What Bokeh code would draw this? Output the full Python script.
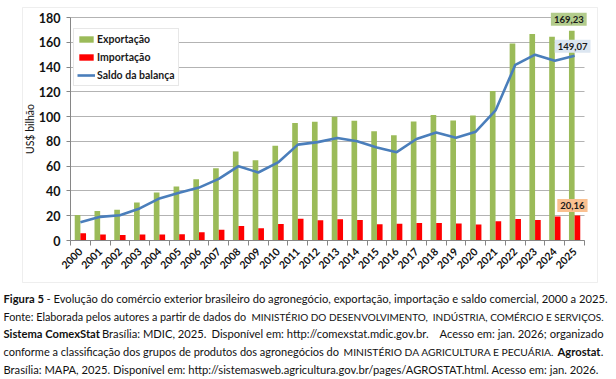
from bokeh.plotting import figure
from bokeh.models import (Range1d, FixedTicker, Label, Legend, LegendItem,
                          BoxAnnotation, ColumnDataSource)
from bokeh.transform import dodge
from bokeh.embed import file_html
from bokeh.resources import INLINE

# ---------------- data ----------------
years = list(range(2000, 2026))
exportacao = [20.6, 23.9, 24.8, 30.7, 38.8, 43.6, 49.4, 58.4, 71.8, 64.8,
              76.4, 94.9, 95.8, 99.9, 96.7, 88.2, 84.9, 96.0, 101.2, 96.8,
              100.8, 120.6, 159.1, 166.6, 164.4, 169.23]
importacao = [5.8, 4.8, 4.4, 4.8, 4.8, 5.1, 6.7, 8.7, 11.8, 9.9,
              13.4, 17.5, 16.4, 17.1, 16.6, 13.1, 13.6, 14.1, 14.1, 13.8,
              13.0, 15.6, 17.3, 16.6, 19.3, 20.16]
saldo = [14.8, 19.1, 20.4, 25.9, 34.0, 38.5, 42.7, 49.7, 60.0, 54.9,
         63.0, 77.4, 79.4, 82.8, 80.1, 75.1, 71.3, 81.9, 87.1, 83.0,
         87.8, 105.0, 141.8, 150.0, 145.1, 149.07]
y_ticks = [0, 20, 40, 60, 80, 100, 120, 140, 160, 180]
series_names = ["Exportação", "Importação", "Saldo da balança"]
y_label = "US$ bilhão"
last_labels = ["169,23", "149,07", "20,16"]

# caption segments: (text, bold, font size, anchor)
caption = [
    [("Figura 5", True, 11.2, ("L", 3)),
     ("- Evolução do comércio exterior brasileiro do agronegócio, exportação, importação e saldo comercial, 2000 a 2025.", False, 11.2, ("L", 46))],
    [("Fonte: Elaborada pelos autores a partir de dados do", False, 10.8, ("L", 3)),
     ("MINISTÉRIO DO DESENVOLVIMENTO,", False, 10.0, ("L", 251)),
     ("INDÚSTRIA, COMÉRCIO E SERVIÇOS.", False, 10.0, ("R", 603))],
    [("Sistema ComexStat", True, 11.2, ("L", 3)),
     (". Brasília: MDIC, 2025.", False, 11.2, ("L", 96)),
     ("Disponível em: http://comexstat.mdic.gov.br.", False, 11.2, ("L", 211)),
     ("Acesso em: jan. 2026;", False, 11.2, ("L", 439)),
     ("organizado", False, 11.2, ("R", 603))],
    [("conforme a classificação dos grupos de produtos dos agronegócios do", False, 11.0, ("L", 3)),
     ("MINISTÉRIO DA AGRICULTURA E PECUÁRIA.", False, 10.3, ("R", 554)),
     ("Agrostat", True, 11.2, ("R", 600)),
     (".", False, 11.2, ("R", 603))],
    [("Brasília: MAPA, 2025. Disponível em: http://sistemasweb.agricultura.gov.br/pages/AGROSTAT.html. Acesso em: jan. 2026.", False, 11.2, ("L", 3))],
]

GREEN = "#9bbb59"
RED = "#ff0000"
BLUE = "#4a7ebb"
FONT = "Lato"

# ---------------- layout constants (page pixels) ----------------
W, H = 616, 379
AX_L, AX_R, AX_T, AX_B = 70, 584, 17, 240
x0, x1 = years[0] - 0.5, years[-1] + 0.5
y0, y1 = y_ticks[0], y_ticks[-1]
sx = (AX_R - AX_L) / (x1 - x0)
sy = (AX_B - AX_T) / (y1 - y0)

src = ColumnDataSource(dict(year=years, exp=exportacao, imp=importacao, sal=saldo))

p = figure(width=W, height=H, output_backend="svg", toolbar_location=None,
           x_range=Range1d(x0 - AX_L / sx, x1 + (W - AX_R) / sx),
           y_range=Range1d(y0 - (H - AX_B) / sy, y1 + AX_T / sy),
           min_border=0)
p.outline_line_color = None
p.background_fill_color = "white"
p.border_fill_color = "white"

# grid
p.xgrid.visible = False
p.ygrid.grid_line_color = "#b3b3b3"
p.ygrid.grid_line_width = 1
p.ygrid.ticker = FixedTicker(ticks=y_ticks)
p.ygrid.bounds = (y0, y1)
p.ygrid.cross_bounds = (x0, x1)

bw = 0.286
r_exp = p.vbar(x=dodge("year", -bw / 2, range=p.x_range), top="exp", width=bw,
               source=src, fill_color=GREEN, line_color=None)
r_imp = p.vbar(x=dodge("year", bw / 2, range=p.x_range), top="imp", width=bw,
               source=src, fill_color=RED, line_color=None)
r_sal = p.line(x="year", y="sal", source=src, line_color=BLUE, line_width=2.6)

# axes
xa = p.xaxis[0]
xa.fixed_location = y0
xa.bounds = (x0, x1)
xa.ticker = FixedTicker(ticks=years, minor_ticks=[y - 0.5 for y in years] + [x1])
xa.major_label_overrides = {y: str(y) for y in years}
xa.major_tick_line_color = None
xa.minor_tick_line_color = "#868686"
xa.minor_tick_out = 5
xa.minor_tick_in = 0
xa.axis_line_color = "#868686"
xa.major_label_orientation = 0.785
xa.major_label_text_font = FONT
xa.major_label_text_font_style = "bold"
xa.major_label_text_font_size = "10.5px"
xa.major_label_text_color = "#111111"
xa.major_label_standoff = 3

ya = p.yaxis[0]
ya.fixed_location = x0
ya.bounds = (y0, y1)
ya.ticker = FixedTicker(ticks=y_ticks)
ya.minor_tick_line_color = None
ya.major_tick_out = 4
ya.major_tick_in = 0
ya.major_tick_line_color = "#868686"
ya.axis_line_color = "#868686"
ya.major_label_text_font = FONT
ya.major_label_text_font_style = "bold"
ya.major_label_text_font_size = "12.5px"
ya.major_label_text_color = "#111111"
ya.major_label_standoff = 6
ya.axis_label = y_label
ya.axis_label_text_font = FONT
ya.axis_label_text_font_style = "normal"
ya.axis_label_text_font_size = "10.5px"
ya.axis_label_text_color = "#111111"
ya.axis_label_standoff = 0

legend = Legend(items=[LegendItem(label=series_names[0], renderers=[r_exp]),
                       LegendItem(label=series_names[1], renderers=[r_imp]),
                       LegendItem(label=series_names[2], renderers=[r_sal])],
                location=(73, H - 86), orientation="vertical",
                glyph_width=18, glyph_height=8, label_height=14,
                label_standoff=2, spacing=4, padding=3, margin=0,
                label_text_font=FONT, label_text_font_style="bold",
                label_text_font_size="10.5px", label_text_color="#1a1a1a",
                border_line_color="#d0d0d0", background_fill_color="white",
                background_fill_alpha=1)
p.add_layout(legend)

# data labels for the last year
lab_specs = [
    (exportacao[-1], -bw / 2, -3, 11.5, "#b3cc8c", last_labels[0]),
    (saldo[-1], 0.0, -2, 9.5, "#dce6f1", last_labels[1]),
    (importacao[-1], bw / 2, -5, 10, "#fac090", last_labels[2]),
]
for yv, dx, xo, yo, bg, txt in lab_specs:
    p.add_layout(Label(x=years[-1] + dx, y=yv, x_offset=xo, y_offset=yo, text=txt,
                       text_align="center", text_baseline="middle",
                       text_font=FONT, text_font_style="bold", text_font_size="9.5px",
                       text_color="#1a1a1a", background_fill_color=bg,
                       background_fill_alpha=1, padding=3))

# outer frame box
p.add_layout(BoxAnnotation(left=22, right=597, top=H - 7, bottom=H - 282,
                           left_units="screen", right_units="screen",
                           top_units="screen", bottom_units="screen",
                           fill_alpha=0, line_color="#c8c8c8", line_width=1,
                           level="underlay"))

# caption
line_y = [H - 298, H - 316, H - 333, H - 351, H - 369]
for i, segs in enumerate(caption):
    for txt, bold, size, (anchor, xx) in segs:
        p.add_layout(Label(x=xx, y=line_y[i], x_units="screen", y_units="screen",
                           text=txt, text_align="left" if anchor == "L" else "right",
                           text_baseline="middle", text_font=FONT,
                           text_font_size=f"{size}px",
                           text_font_style="bold" if bold else "normal",
                           text_color="#111111"))

open("out.html", "w").write(file_html(p, INLINE))
